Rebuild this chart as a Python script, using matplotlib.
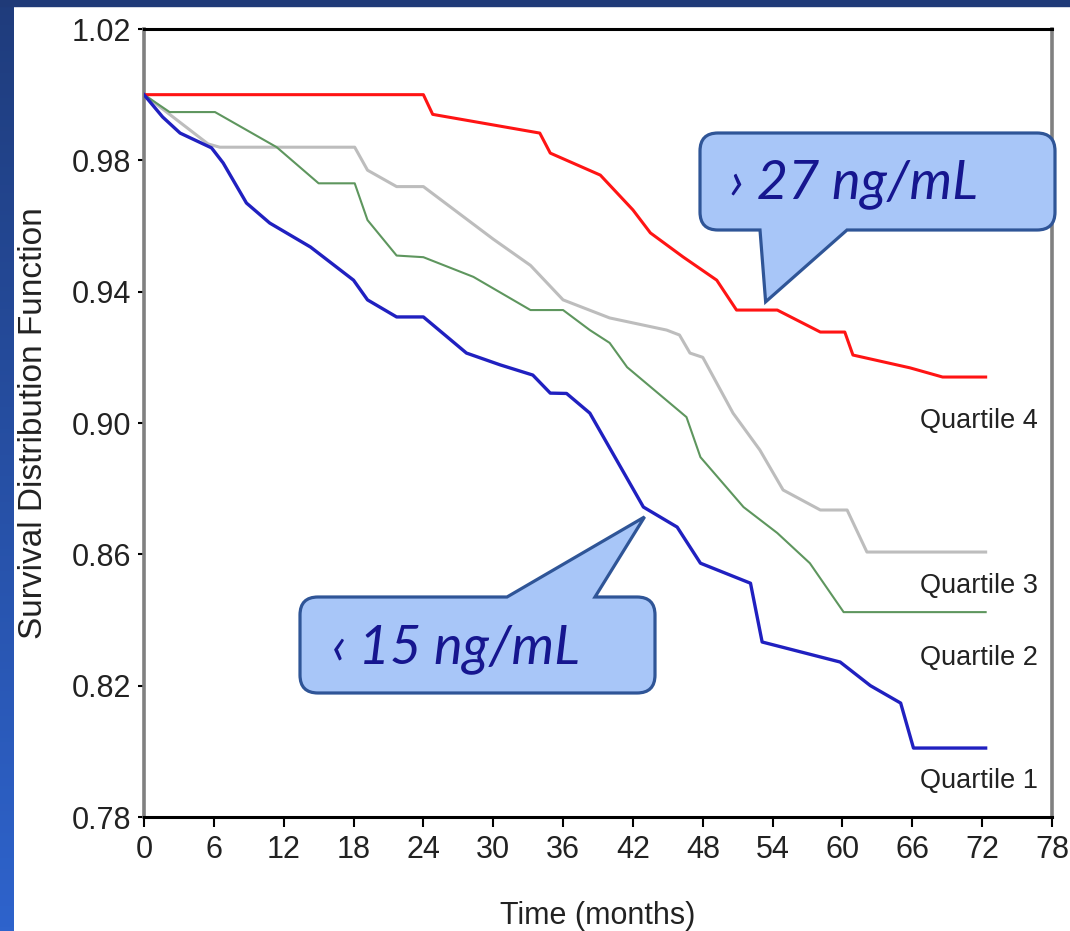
import matplotlib
matplotlib.use("Agg")
import matplotlib.pyplot as plt
import numpy as np
from matplotlib.path import Path
from matplotlib.patches import PathPatch, Rectangle
from matplotlib.transforms import Affine2D

# Kaplan-Meier curves (months, survival)
t_q4 = [0, 24, 24.8, 34, 34.9, 39.2, 42, 43.5, 46.3, 49.2, 50.9, 54.4, 58.1, 60.2, 60.9, 65.8, 68.6, 72.3]
s_q4 = [1.0, 1.0, 0.994, 0.9883, 0.9822, 0.9755, 0.9649, 0.9579, 0.9506, 0.9435, 0.9344, 0.9344,
        0.9277, 0.9277, 0.9207, 0.9168, 0.914, 0.914]

t_q3 = [0, 5.5, 6.5, 18.1, 19.2, 21.7, 24, 30, 33.2, 36, 40, 44.9, 46.0, 46.9, 48, 50.6, 52.9,
        54.9, 58.1, 60.4, 62.1, 72.3]
s_q3 = [1.0, 0.985, 0.984, 0.984, 0.977, 0.972, 0.972, 0.956, 0.948, 0.9375, 0.932, 0.9283, 0.9268,
        0.9213, 0.920, 0.903, 0.8918, 0.8796, 0.8735, 0.8735, 0.8607, 0.8607]

t_q2 = [0, 2.2, 6.1, 11.4, 15, 18.1, 19.2, 21.7, 24, 28.3, 33.2, 36, 38.3, 40, 41.5, 46.6, 47.8,
        51.5, 54.4, 57.2, 60.1, 72.3]
s_q2 = [1.0, 0.9947, 0.9947, 0.984, 0.973, 0.973, 0.9618, 0.951, 0.9505, 0.9445, 0.9344, 0.9344,
        0.9283, 0.9244, 0.917, 0.9018, 0.8896, 0.8744, 0.8665, 0.8573, 0.8424, 0.8424]

t_q1 = [0, 1.6, 3.1, 5.8, 6.8, 8.8, 10.8, 14.3, 18, 19.2, 21.7, 24, 27.7, 30.6, 33.4, 34.9, 36.3,
        38.3, 40.6, 42.9, 45.8, 47.8, 52.1, 53.1, 59.8, 62.4, 65, 66.1, 72.3]
s_q1 = [1.0, 0.9932, 0.9883, 0.9838, 0.9792, 0.967, 0.9609, 0.9536, 0.9435, 0.9375, 0.9323, 0.9323,
        0.9213, 0.9177, 0.9146, 0.9091, 0.909, 0.903, 0.8887, 0.8744, 0.8683, 0.8573, 0.8512, 0.8333,
        0.8272, 0.820, 0.8147, 0.801, 0.801]

labels = ['Quartile 4', 'Quartile 3', 'Quartile 2', 'Quartile 1']
label_y = [0.9006, 0.8503, 0.8284, 0.7909]
label_x = 66.7

xticks = list(range(0, 79, 6))
yticks = [0.78, 0.82, 0.86, 0.90, 0.94, 0.98, 1.02]

callout_text = ['\u203a 27 ng/mL', '\u2039 15 ng/mL']
callout_tip = [(53.4, 0.9369), (43.0, 0.8714)]

W, H = 1070, 931
plt.rcParams['font.family'] = ['Liberation Sans', 'DejaVu Sans']

fig = plt.figure(figsize=(W / 100, H / 100), dpi=100, facecolor='white')
ax = fig.add_axes([144 / W, 1 - 817 / H, 908 / W, 788 / H])

ax.plot(t_q4, s_q4, color='#ff1414', lw=2.2, zorder=4)
ax.plot(t_q3, s_q3, color='#bdbdbd', lw=2.2, zorder=3)
ax.plot(t_q2, s_q2, color='#5e965e', lw=1.5, zorder=3)
ax.plot(t_q1, s_q1, color='#2020c0', lw=2.4, zorder=4)

for lab, yy in zip(labels, label_y):
    ax.text(label_x, yy, lab, fontsize=19.5, color='#222222', ha='left', va='center')

ax.set_xlim(0, 78)
ax.set_ylim(0.78, 1.02)
ax.set_xticks(xticks)
ax.set_yticks(yticks)
ax.set_yticklabels(['%.2f' % v for v in yticks])
ax.tick_params(axis='both', labelsize=22, labelcolor='#222222', direction='out', width=1.5)
ax.tick_params(axis='x', length=7, pad=6)
ax.tick_params(axis='y', length=4.5, pad=5)
ax.set_xlabel('Time (months)', fontsize=22, color='#222222', labelpad=26)
ax.set_ylabel('Survival Distribution Function', fontsize=24, color='#222222')
ax.yaxis.set_label_coords(-0.105, 0.5)

for side in ['left', 'right']:
    ax.spines[side].set_color('#808080')
    ax.spines[side].set_linewidth(2.6)
for side in ['top', 'bottom']:
    ax.spines[side].set_color('black')
    ax.spines[side].set_linewidth(2.2)

# blue slide frame
band = fig.add_axes([0, 0, 14 / W, 1])
grad = np.linspace(0, 1, 256).reshape(-1, 1)
band.imshow(grad, aspect='auto', cmap=matplotlib.colors.LinearSegmentedColormap.from_list(
    'b', ['#1f3c7c', '#2e63cc']), extent=[0, 1, 1, 0])
band.axis('off')
fig.patches.append(Rectangle((0, 1 - 6 / H), 1, 6 / H, transform=fig.transFigure,
                             color='#1f3a78', zorder=10))

# speech-bubble callouts, drawn in image pixels (origin top-left)
px = Affine2D().scale(1 / W, -1 / H).translate(0, 1) + fig.transFigure


def to_px(t, v):
    x, y = ax.transData.transform((t, v))
    return x, H - y


def bubble(x0, y0, x1, y1, r, base, tip, side):
    M, L, C = Path.MOVETO, Path.LINETO, Path.CURVE3
    verts, codes = [(x0 + r, y0)], [M]
    if side == 'top':
        verts += [(base[0], y0), tip, (base[1], y0)]
        codes += [L, L, L]
    verts += [(x1 - r, y0), (x1, y0), (x1, y0 + r), (x1, y1 - r), (x1, y1), (x1 - r, y1)]
    codes += [L, C, C, L, C, C]
    if side == 'bottom':
        verts += [(base[1], y1), tip, (base[0], y1)]
        codes += [L, L, L]
    verts += [(x0 + r, y1), (x0, y1), (x0, y1 - r), (x0, y0 + r), (x0, y0), (x0 + r, y0)]
    codes += [L, C, C, L, C, C]
    verts.append((x0 + r, y0))
    codes.append(Path.CLOSEPOLY)
    p = PathPatch(Path(verts, codes), transform=px, facecolor='#a8c6f8', edgecolor='#2f5597',
                  lw=2.3, zorder=20)
    fig.patches.append(p)


bubble(700, 133, 1055, 230, 18, (760, 847), to_px(*callout_tip[0]), 'bottom')
bubble(300, 597, 655, 693, 18, (507, 595), to_px(*callout_tip[1]), 'top')

font_call = dict(fontsize=39, style='italic', weight='normal', family=['Lato', 'DejaVu Sans'],
                 color='#16168f', ha='left', va='baseline', zorder=21)
fig.text(730, 198, callout_text[0], transform=px, **font_call)
fig.text(332, 663, callout_text[1], transform=px, **font_call)

fig.savefig('out.png', dpi=100, facecolor='white')
